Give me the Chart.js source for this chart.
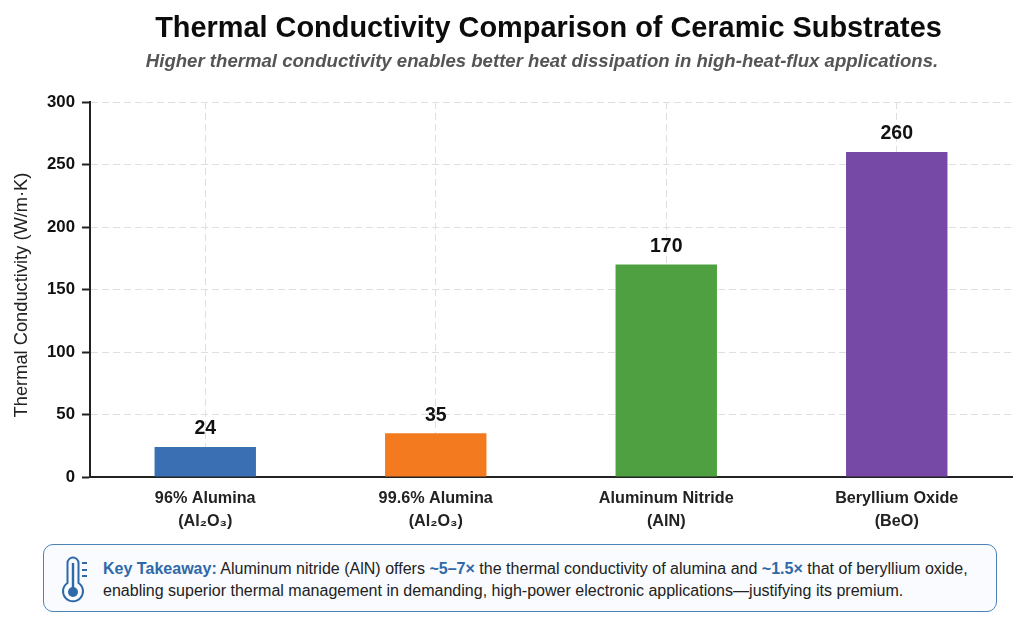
<!DOCTYPE html>
<html>
<head>
<meta charset="utf-8">
<title>Thermal Conductivity Comparison of Ceramic Substrates</title>
<script src="https://cdn.jsdelivr.net/npm/chart.js@4"></script>
<style>
    html, body { margin: 0; padding: 0; background: #fff; }
    body { width: 1024px; height: 617px; position: relative; overflow: hidden; font-family: "Liberation Sans", Arial, sans-serif; }
    #chartWrap { position: absolute; left: 0; top: 0; width: 1024px; height: 617px; }
    .main-title { position: absolute; left: 0; top: 10px; width: 1097px; text-align: center; font-size: 28.9px; line-height: 34px; font-weight: bold; color: #0c0c0c; }
    .sub-title { position: absolute; left: 0; top: 50px; width: 1084px; text-align: center; font-size: 18.6px; line-height: 22px; font-weight: bold; font-style: italic; color: #555; }
    .takeaway { position: absolute; left: 43px; top: 544px; width: 952px; height: 66px; border: 1.5px solid #4d82b8; border-radius: 10px; background: #f9fbfe; }
    .takeaway svg { position: absolute; left: 15px; top: 9px; }
    .takeaway p { position: absolute; left: 59px; top: 12px; margin: 0; font-size: 16.05px; line-height: 22px; color: #222; white-space: nowrap; }
    .takeaway b { color: #2f69a8; }
</style>
</head>
<body>
<div id="chartWrap"><canvas id="myChart"></canvas></div>
<div class="main-title">Thermal Conductivity Comparison of Ceramic Substrates</div>
<div class="sub-title">Higher thermal conductivity enables better heat dissipation in high-heat-flux applications.</div>
<div class="takeaway">
    <svg width="32" height="50" viewBox="0 0 32 50" fill="none" stroke="#2f69a8" stroke-width="2">
        <path d="M8.5 29V9a5.5 5.5 0 0 1 11 0V29a10 10 0 1 1 -11 0z"/>
        <path d="M14 9V36" stroke-width="2.4"/>
        <circle cx="14" cy="38" r="5" fill="#2f69a8" stroke="none"/>
        <path d="M23 9h5M23 16h5M23 22h5"/>
    </svg>
    <p><b>Key Takeaway:</b> Aluminum nitride (AlN) offers <b>~5–7×</b> the thermal conductivity of alumina and <b>~1.5×</b> that of beryllium oxide,<br>enabling superior thermal management in demanding, high-power electronic applications—justifying its premium.</p>
</div>
<script>
    let categories = [
        ['96% Alumina', '(Al₂O₃)'],
        ['99.6% Alumina', '(Al₂O₃)'],
        ['Aluminum Nitride', '(AlN)'],
        ['Beryllium Oxide', '(BeO)']
    ]
    let conductivity = [24, 35, 170, 260]
    let barColors = ['#3a70b3', '#f47a20', '#4ea040', '#7649a6']
    let yAxisTitle = 'Thermal Conductivity (W/m·K)'

    //Value printed above each bar, plus the rotated y axis title
    let barValues = {
        id: 'barValues',
        afterDatasetsDraw(chart) {
            let ctx = chart.ctx
            ctx.save()
            ctx.font = 'bold 19.5px "Liberation Sans"'
            ctx.fillStyle = '#111'
            ctx.textAlign = 'center'
            ctx.textBaseline = 'middle'
            chart.getDatasetMeta(0).data.forEach(function (bar, i) {
                ctx.fillText(conductivity[i], bar.x, bar.y - 18)
            })
            ctx.font = '18.3px "Liberation Sans"'
            ctx.fillStyle = '#222'
            ctx.translate(22, 295)
            ctx.rotate(-Math.PI / 2)
            ctx.fillText(yAxisTitle, 0, 0)
            ctx.restore()
        }
    }

    let ctx = document.getElementById('myChart').getContext('2d')
    let myChart = new Chart(ctx, {
        type: 'bar',
        data: {
            labels: categories,
            datasets: [{
                data: conductivity,
                backgroundColor: barColors,
                categoryPercentage: 1,
                barPercentage: 0.44
            }]
        },
        options: {
            responsive: true,
            maintainAspectRatio: false,
            animation: false,
            layout: { padding: { top: 102, right: 12, bottom: 80, left: 0 } },
            plugins: { legend: false, tooltip: { enabled: false } },
            scales: {
                x: {
                    afterFit(scale) { scale.height = 60 },
                    grid: { offset: false, color: '#dfdfdf', drawTicks: false },
                    border: { color: '#222', width: 2, dash: [7, 4] },
                    ticks: {
                        padding: 10,
                        maxRotation: 0,
                        color: '#222',
                        font: { family: '"Liberation Sans"', size: 16.2, weight: 'bold', lineHeight: 1.42 }
                    }
                },
                y: {
                    min: 0,
                    max: 300,
                    afterFit(scale) { scale.width = 90 },
                    grid: { color: '#dfdfdf', tickColor: '#222', tickWidth: 2, tickLength: 8 },
                    border: { color: '#222', width: 2, dash: [7, 4] },
                    ticks: {
                        stepSize: 50,
                        padding: 7,
                        color: '#111',
                        font: { family: '"Liberation Sans"', size: 16.8, weight: 'bold' }
                    }
                }
            }
        },
        plugins: [barValues]
    })
</script>
</body>
</html>
